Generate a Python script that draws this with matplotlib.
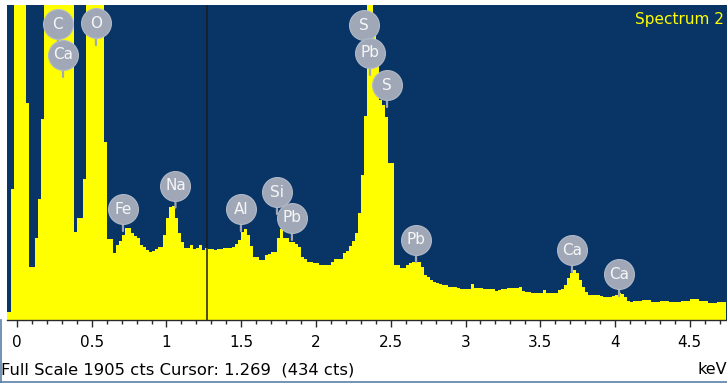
import numpy as np
import matplotlib
matplotlib.use('Agg')
import matplotlib.pyplot as plt
from matplotlib.lines import Line2D
from matplotlib.ticker import MultipleLocator, FuncFormatter
from matplotlib.transforms import offset_copy

plt.rcParams['font.family'] = ['DejaVu Sans']

# spectrum: 20 eV channels starting at -0.08 keV
start_kev = -0.08
channel_kev = 0.02
counts = [
    48,
    48, 790, 2600, 2700, 2800, 2600, 1313, 321, 321, 496,
    732, 1216, 2400, 3300, 4100, 4600, 4700, 4400, 3900, 3300,
    2700, 2100, 532, 617, 617, 853, 2300, 3100, 3600, 3500,
    2900, 2100, 1077, 490, 490, 405, 454, 480, 514, 557,
    557, 526, 510, 496, 454, 440, 424, 410, 415, 430,
    442, 442, 514, 617, 684, 690, 617, 526, 470, 436,
    436, 454, 430, 436, 454, 424, 434, 430, 430, 426,
    432, 430, 434, 436, 436, 440, 460, 484, 530, 551,
    514, 450, 381, 381, 363, 363, 393, 400, 411, 411,
    496, 551, 496, 496, 472, 472, 460, 442, 381, 370,
    351, 351, 345, 345, 333, 333, 333, 333, 351, 369,
    369, 369, 405, 420, 448, 480, 526, 647, 877, 1234,
    2200, 2400, 1800, 1570, 1330, 1300, 1228, 950, 950, 333,
    333, 315, 315, 330, 345, 348, 351, 351, 321, 272,
    260, 242, 230, 224, 220, 212, 212, 200, 200, 200,
    195, 188, 188, 188, 190, 215, 194, 194, 194, 188,
    188, 188, 188, 175, 180, 188, 188, 194, 194, 194,
    194, 200, 175, 169, 169, 163, 163, 163, 163, 181,
    163, 163, 163, 165, 181, 190, 212, 254, 284, 302,
    285, 240, 200, 170, 151, 151, 151, 151, 145, 139,
    139, 142, 145, 151, 163, 160, 139, 115, 109, 115,
    115, 115, 118, 121, 121, 109, 109, 109, 115, 115,
    112, 109, 109, 109, 109, 112, 115, 115, 127, 127,
    124, 115, 115, 112, 103, 103, 103, 109, 109, 109,
]

full_scale = 1905
cursor_kev = 1.269
cursor_cts = 434

# element line markers: label, energy (keV), counts at marker tip
peak_labels = ['C', 'Ca', 'O', 'Fe', 'Na', 'Al', 'Si', 'Pb', 'S', 'Pb', 'S', 'Pb', 'Ca', 'Ca']
peak_kev = [0.274, 0.308, 0.528, 0.709, 1.060, 1.498, 1.739, 1.839,
            2.321, 2.361, 2.475, 2.669, 3.712, 4.027]
peak_tip = [1657, 1470, 1663, 538, 680, 538, 641, 484,
            1651, 1482, 1288, 351, 290, 145]

navy = '#083566'
yellow = '#ffff00'
bubble = '#a0a8b8'

fig = plt.figure(figsize=(7.27, 3.83), dpi=100, facecolor='white')
ax = fig.add_axes([6.5 / 727, 63 / 383, 720.5 / 727, 315 / 383])
ax.set_facecolor(navy)

edges = start_kev + channel_kev * np.arange(len(counts) + 1)
ax.stairs(counts, edges, fill=True, color=yellow, linewidth=0)

ax.set_xlim(-0.07, 4.749)
ax.set_ylim(0, full_scale)

# cursor
ax.axvline(cursor_kev, color='#1c1c1c', linewidth=1.1)

# line markers: grey disc on a short stem
lift = 22
up = offset_copy(ax.transData, fig=fig, x=0, y=lift, units='dots')
for name, e, c in zip(peak_labels, peak_kev, peak_tip):
    ax.annotate('', xy=(e, c), xytext=(0, lift - 6), textcoords='offset pixels',
                arrowprops=dict(arrowstyle='-', color=bubble, lw=1.6,
                                shrinkA=0, shrinkB=0))
    ax.plot(e, c, marker='o', markersize=21.5, color=bubble,
            markeredgecolor='#b2bac8', markeredgewidth=0.8,
            transform=up, clip_on=False, zorder=5)
    ax.text(e, c, name, transform=up, ha='center', va='center',
            color='#f6f6f6', fontsize=11, zorder=6)

ax.text(0.996, 0.955, 'Spectrum 2', transform=ax.transAxes, ha='right',
        va='center', color=yellow, fontsize=11)

for side in ['top', 'left', 'right']:
    ax.spines[side].set_visible(False)
ax.spines['bottom'].set_color('#2a2a2a')
ax.spines['bottom'].set_linewidth(1)
ax.yaxis.set_visible(False)

ax.xaxis.set_major_locator(MultipleLocator(0.5))
ax.xaxis.set_minor_locator(MultipleLocator(0.1))
ax.xaxis.set_major_formatter(FuncFormatter(lambda v, p: f'{v:g}'))
ax.tick_params(axis='x', which='major', direction='out', length=5,
               width=1, color='#2a2a2a', labelsize=11, pad=6,
               labelcolor='black')
ax.tick_params(axis='x', which='minor', direction='out', length=3,
               width=1, color='#2a2a2a')

fig.text(1 / 727, 1 - 370 / 383,
         f'Full Scale {full_scale} cts Cursor: {cursor_kev:.3f}  ({cursor_cts} cts)',
         ha='left', va='center', fontsize=11.8)
fig.text(727 / 727, 1 - 370 / 383, 'keV', ha='right', va='center', fontsize=11.5)

# thin window frame around the status line
frame = '#5b7fa8'
fig.add_artist(Line2D([0.5 / 727, 0.5 / 727], [0, 63 / 383], color=frame, lw=1.2))
fig.add_artist(Line2D([0, 1], [1.5 / 383, 1.5 / 383], color=frame, lw=1.2))

fig.savefig('out.png', dpi=100, facecolor='white')
